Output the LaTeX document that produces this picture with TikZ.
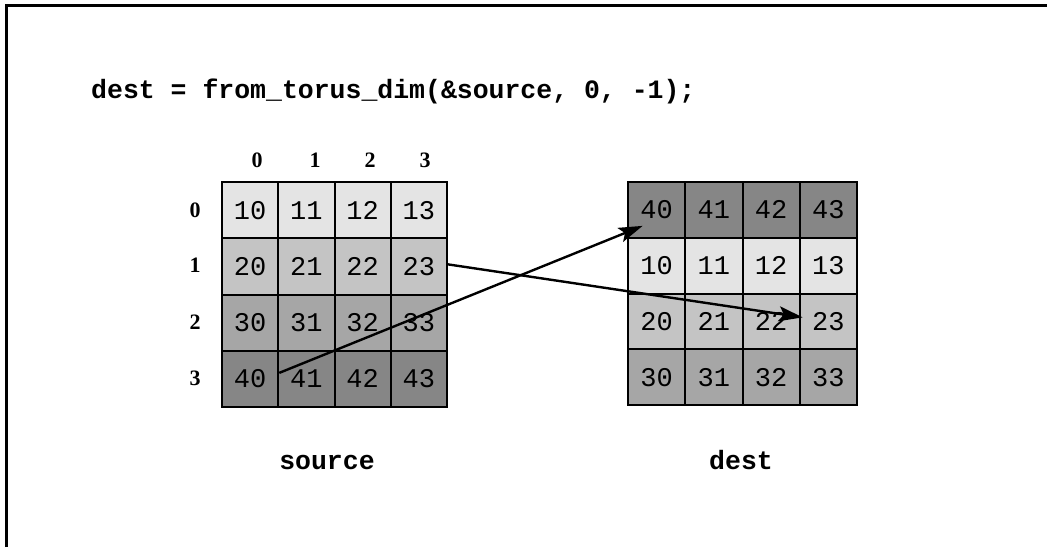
\documentclass[tikz,border=0pt]{standalone}
\usepackage{fontspec}
\setmainfont{Liberation Serif}
\setmonofont{Liberation Mono}
\usetikzlibrary{arrows.meta,calc}
\definecolor{shA}{HTML}{E4E4E4}
\definecolor{shB}{HTML}{C4C4C4}
\definecolor{shC}{HTML}{A6A6A6}
\definecolor{shD}{HTML}{868686}
\tikzset{
  cellbox/.style={draw=black, line width=2pt, inner sep=0pt, font=\ttfamily\fontsize{27}{27}\selectfont},
  idxlabel/.style={font=\bfseries\fontsize{22}{22}\selectfont, inner sep=0pt},
  codetext/.style={font=\ttfamily\bfseries\fontsize{26.5}{26.5}\selectfont, inner sep=0pt},
  movearrow/.style={line width=2.4pt, -{Stealth[length=24pt,width=15pt,inset=5pt]}},
  frameline/.style={line width=3pt}
}
\begin{document}
\begin{tikzpicture}[x=1pt,y=-1pt]
\useasboundingbox (0,0) rectangle (1047,547);
\fill[white] (0,0) rectangle (1047,547);
\draw[frameline] (6,547) -- (6,5) -- (1047,5);
% title
\node[codetext, anchor=base west] (title) at (91,98) {dest = from\_torus\_dim(\&source, 0, -1);};
% source grid
\foreach \r/\c in {0/shA,1/shB,2/shC,3/shD}{
  \foreach \k in {0,1,2,3}{
    \pgfmathtruncatemacro{\v}{(\r+1)*10+\k}
    \node[cellbox, fill=\c, minimum width=56.25pt, minimum height=56.25pt]
      (s\r\k) at ({222+56.25*(\k+0.5)},{182+56.25*(\r+0.5)}) {\v};
  }
}
% dest grid
\foreach \r/\c/\m in {0/shD/4,1/shA/1,2/shB/2,3/shC/3}{
  \foreach \k in {0,1,2,3}{
    \pgfmathtruncatemacro{\v}{\m*10+\k}
    \node[cellbox, fill=\c, minimum width=57.25pt, minimum height=55.75pt]
      (d\r\k) at ({628+57.25*(\k+0.5)},{182+55.75*(\r+0.5)}) {\v};
  }
}
% column and row labels
\node[idxlabel] (c0) at (257,160) {0};
\node[idxlabel] (c1) at (315,160) {1};
\node[idxlabel] (c2) at (370,160) {2};
\node[idxlabel] (c3) at (425,160) {3};
\node[idxlabel] (r0) at (195,210) {0};
\node[idxlabel] (r1) at (195,265) {1};
\node[idxlabel] (r2) at (195,322) {2};
\node[idxlabel] (r3) at (195,378) {3};
% captions
\node[codetext, anchor=base] (srclab) at (327,469) {source};
\node[codetext, anchor=base] (dstlab) at (741,469) {dest};
% arrows
\draw[movearrow] ([yshift=6pt]s30.east) -- ($(d00.center)+(-14,16)$);
\draw[movearrow] ([yshift=2pt]s13.east) -- ($(d23.west)+(4,-4)$);
\end{tikzpicture}
\end{document}
